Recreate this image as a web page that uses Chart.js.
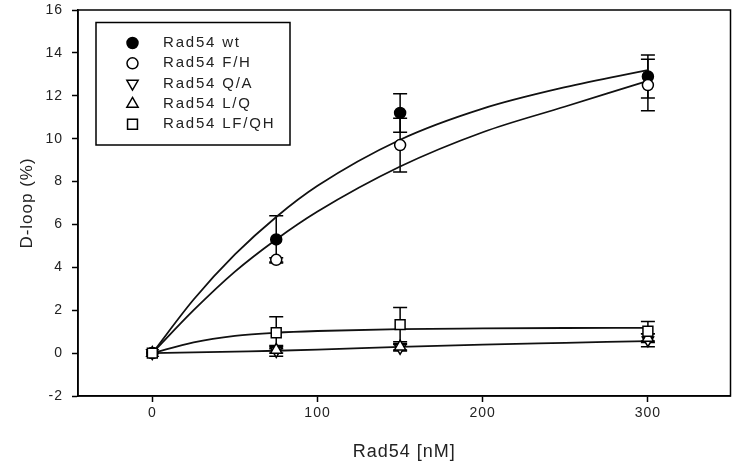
<!DOCTYPE html>
<html lang="en">
<head>
  <meta charset="UTF-8">
  <title>D-loop vs Rad54</title>
  <script src="https://cdn.jsdelivr.net/npm/chart.js"></script>
  <style>
    body { margin: 0; background: #fff; }
    canvas { display: block; }
  </style>
</head>
<body>
  <canvas id="grafico" width="739" height="472"></canvas>
  <script>
    // measured points
    const conc = [0, 75, 150, 300];
    const names = ['Rad54 wt', 'Rad54 F/H', 'Rad54 Q/A', 'Rad54 L/Q', 'Rad54 LF/QH'];
    const wt = [0, 5.3, 11.2, 12.9];
    const wtErr = [0, 1.1, 0.9, 1.0];
    const fh = [0, 4.35, 9.7, 12.5];
    const fhErr = [0, 0.1, 1.25, 1.2];
    const qa = [0, 0.1, 0.25, 0.6];
    const qaErr = [0, 0.25, 0.15, 0.3];
    const lq = [0, 0.15, 0.3, 0.7];
    const lqErr = [0, 0.15, 0.15, 0.2];
    const lfqh = [0, 0.95, 1.33, 1.02];
    const lfqhErr = [0, 0.75, 0.8, 0.45];

    // fitted curves
    const fitX = [0, 25, 50, 75, 100, 150, 200, 250, 300];
    const fitWt = [0, 2.5, 4.6, 6.35, 7.8, 9.95, 11.4, 12.4, 13.2];
    const fitFh = [0, 2.0, 3.8, 5.3, 6.6, 8.7, 10.3, 11.5, 12.7];
    const fitLfqh = [0, 0.5, 0.8, 0.95, 1.03, 1.12, 1.15, 1.17, 1.18];
    const fitQa = [0, 0.03, 0.07, 0.11, 0.16, 0.29, 0.4, 0.48, 0.56];

    const xTicks = [0, 100, 200, 300];
    const yTicks = [-2, 0, 2, 4, 6, 8, 10, 12, 14, 16];

    const pts = (ys) => conc.map((x, i) => ({ x: x, y: ys[i] }));
    const fit = (ys) => fitX.map((x, i) => ({ x: x, y: ys[i] }));

    const marker = [
      { pointStyle: 'circle', radius: 5.5, rotation: 0, fill: '#000' },
      { pointStyle: 'circle', radius: 5.5, rotation: 0, fill: '#fff' },
      { pointStyle: 'triangle', radius: 6.5, rotation: 180, fill: '#fff' },
      { pointStyle: 'triangle', radius: 6.5, rotation: 0, fill: '#fff' },
      { pointStyle: 'rect', radius: 7, rotation: 0, fill: '#fff' }
    ];
    const values = [wt, fh, qa, lq, lfqh];
    const errors = [wtErr, fhErr, qaErr, lqErr, lfqhErr];

    // later series sit on top (square over everything at 0)
    const pointSets = values.map((v, k) => ({
      label: names[k],
      data: pts(v),
      showLine: false,
      pointStyle: marker[k].pointStyle,
      pointRadius: marker[k].radius,
      pointRotation: marker[k].rotation,
      pointBackgroundColor: marker[k].fill,
      pointBorderColor: '#000',
      pointBorderWidth: 1.5,
      order: 5 - k
    }));
    const curveSets = [fitWt, fitFh, fitLfqh, fitQa].map((c) => ({
      label: 'fit',
      data: fit(c),
      showLine: true,
      pointRadius: 0,
      borderColor: '#111',
      borderWidth: 1.8,
      cubicInterpolationMode: 'monotone',
      fill: false,
      order: 10
    }));

    const spaziatura = {
      id: 'spaziatura',
      beforeLayout(chart) { chart.ctx.letterSpacing = '1px'; },
      beforeDraw(chart) { chart.ctx.letterSpacing = '1px'; }
    };

    // error bars go under the markers
    const barre = {
      id: 'barre',
      beforeDatasetsDraw(chart) {
        const c = chart.ctx, xs = chart.scales.x, ys = chart.scales.y;
        c.save();
        c.strokeStyle = '#000';
        c.lineWidth = 1.5;
        errors.forEach((err, k) => {
          conc.forEach((x, i) => {
            if (!err[i]) return;
            const px = xs.getPixelForValue(x);
            const top = ys.getPixelForValue(values[k][i] + err[i]);
            const bot = ys.getPixelForValue(values[k][i] - err[i]);
            c.beginPath();
            c.moveTo(px, top); c.lineTo(px, bot);
            c.moveTo(px - 7, top); c.lineTo(px + 7, top);
            c.moveTo(px - 7, bot); c.lineTo(px + 7, bot);
            c.stroke();
          });
        });
        c.restore();
      }
    };

    // frame and legend box
    const cornice = {
      id: 'cornice',
      afterDraw(chart) {
        const c = chart.ctx, a = chart.chartArea;
        c.save();
        c.strokeStyle = '#000';
        c.lineWidth = 1.5;
        c.strokeRect(a.left, a.top, a.right - a.left, a.bottom - a.top);

        c.strokeRect(96, 22.5, 194, 122.5);
        c.font = '15px "Liberation Sans", Arial, sans-serif';
        c.letterSpacing = '1.8px';
        c.textBaseline = 'middle';
        names.forEach((n, k) => {
          const y = 43 + k * 20.3;
          c.fillStyle = marker[k].fill;
          c.strokeStyle = '#000';
          c.lineWidth = 1.5;
          Chart.helpers.drawPoint(c, {
            pointStyle: marker[k].pointStyle,
            radius: marker[k].radius,
            rotation: marker[k].rotation,
            borderWidth: 1.5
          }, 132.5, y);
          c.fillStyle = '#222';
          c.fillText(n, 163, y);
        });
        c.restore();
      }
    };

    const ctx = document.getElementById('grafico').getContext('2d');
    new Chart(ctx, {
      type: 'scatter',
      data: { datasets: pointSets.concat(curveSets) },
      plugins: [spaziatura, barre, cornice],
      options: {
        responsive: false,
        animation: false,
        layout: { padding: { top: 10, right: 8, left: 0, bottom: 0 } },
        plugins: { legend: { display: false }, tooltip: { enabled: false } },
        scales: {
          x: {
            type: 'linear',
            min: -45,
            max: 350,
            afterBuildTicks: (s) => { s.ticks = xTicks.map((v) => ({ value: v })); },
            afterFit: (s) => { s.height = 76; s.paddingLeft = 0; s.paddingRight = 0; },
            border: { display: true, color: '#000', width: 1.5 },
            grid: { drawOnChartArea: false, drawTicks: true, tickLength: 6, tickColor: '#000', tickWidth: 1.5 },
            ticks: { color: '#222', padding: 3, font: { family: '"Liberation Sans", Arial', size: 14 } },
            title: {
              display: true, text: 'Rad54 [nM]', color: '#222',
              padding: { top: 0, bottom: 9 },
              font: { family: '"Liberation Sans", Arial', size: 18 }
            }
          },
          y: {
            type: 'linear',
            min: -2,
            max: 16,
            afterBuildTicks: (s) => { s.ticks = yTicks.map((v) => ({ value: v })); },
            afterFit: (s) => { s.width = 78; s.paddingTop = 0; s.paddingBottom = 0; },
            border: { display: true, color: '#000', width: 1.5 },
            grid: { drawOnChartArea: false, drawTicks: true, tickLength: 6, tickColor: '#000', tickWidth: 1.5 },
            ticks: { color: '#222', padding: 9, font: { family: '"Liberation Sans", Arial', size: 14 } },
            title: {
              display: true, text: 'D-loop (%)', color: '#222',
              padding: { top: 17, bottom: 0 },
              font: { family: '"Liberation Sans", Arial', size: 17 }
            }
          }
        }
      }
    });
  </script>
</body>
</html>
